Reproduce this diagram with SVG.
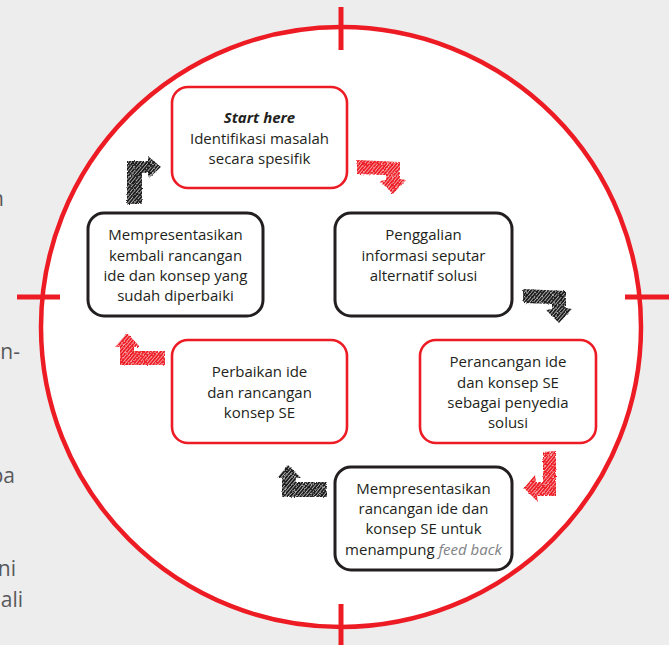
<svg xmlns="http://www.w3.org/2000/svg" width="669" height="645" viewBox="0 0 669 645">
  <defs>
    <pattern id="hatchRed" width="2.6" height="2.6" patternUnits="userSpaceOnUse" patternTransform="rotate(40)">
      <rect width="2.6" height="2.6" fill="#f7a3a6"/>
      <rect width="1.7" height="2.6" fill="#ed1c24"/>
    </pattern>
    <pattern id="hatchBlack" width="2.6" height="2.6" patternUnits="userSpaceOnUse" patternTransform="rotate(40)">
      <rect width="2.6" height="2.6" fill="#b0b0b0"/>
      <rect width="1.7" height="2.6" fill="#1a1a1a"/>
    </pattern>
    <filter id="rough" x="-20%" y="-20%" width="140%" height="140%">
      <feTurbulence type="fractalNoise" baseFrequency="0.9" numOctaves="2" seed="3" result="n"/>
      <feDisplacementMap in="SourceGraphic" in2="n" scale="2.5" xChannelSelector="R" yChannelSelector="G"/>
    </filter>
  </defs>
  <style>
    .bg { fill: #ededed; }
    .ring { fill: #ffffff; stroke: #ed1c24; stroke-width: 4.5; }
    .tick { stroke: #ed1c24; stroke-width: 5; }
    .side { font-family: "Open Sans", "Noto Sans", sans-serif; font-size: 21px; fill: #58595b; text-anchor: end; }
    .boxR { fill: #ffffff; stroke: #ed1c24; stroke-width: 2.6; }
    .boxK { fill: #ffffff; stroke: #231f20; stroke-width: 3; }
    .lbl { font-family: "Open Sans", "Noto Sans", sans-serif; font-size: 15px; fill: #231f20; text-anchor: middle; }
    .bi { font-weight: bold; font-style: italic; }
    .it { font-style: italic; fill: #808285; }
    .arR { fill: url(#hatchRed); filter: url(#rough); }
    .arK { fill: url(#hatchBlack); filter: url(#rough); }
  </style>

  <rect class="bg" x="0" y="0" width="669" height="645"/>

  <!-- partial body text at left edge -->
  <g id="side-text">
    <text class="side" x="4" y="206">n</text>
    <text class="side" x="20" y="359">n-</text>
    <text class="side" x="15" y="483">pa</text>
    <text class="side" x="16" y="576">ni</text>
    <text class="side" x="23" y="607">ali</text>
  </g>

  <!-- target circle -->
  <g id="target">
    <circle class="ring" cx="341" cy="327" r="300"/>
    <line class="tick" x1="341" y1="7" x2="341" y2="50"/>
    <line class="tick" x1="341" y1="604" x2="341" y2="645"/>
    <line class="tick" x1="17" y1="297" x2="60" y2="297"/>
    <line class="tick" x1="625" y1="297" x2="669" y2="297"/>
  </g>

  <!-- connectors -->
  <g id="connectors">
    <polygon class="arR" points="357,160 400,162 400,179 406,180 393,194 380,181 386,180 386,175 357,174"/>
    <polygon class="arK" points="523,289 566,291 566,308 572,309 559,323 546,310 552,309 552,304 523,303"/>
    <polygon class="arR" points="543,452 556,451 556,496 537,496 538,502 524,488 535,475 536,482 543,482"/>
    <polygon class="arK" points="327,482 327,497 282,497 282,478 277,478 288,465 301,478 296,478 296,482"/>
    <polygon class="arR" points="165,351 165,365 120,365 120,347 115,347 127,333 140,347 134,347 134,351"/>
    <polygon class="arK" points="127,204 142,204 142,173 148,173 149,178 161,167 148,156 148,161 127,161"/>
  </g>

  <g id="start">
    <rect class="boxR" x="172" y="87" width="175" height="101" rx="16"/>
    <text class="lbl" x="259.5" y="123"><tspan class="bi">Start here</tspan></text>
    <text class="lbl" x="259.5" y="143.5">Identifikasi masalah</text>
    <text class="lbl" x="259.5" y="164">secara spesifik</text>
  </g>

  <g id="penggalian">
    <rect class="boxK" x="335" y="213" width="177" height="103" rx="16"/>
    <text class="lbl" x="423.5" y="240">Penggalian</text>
    <text class="lbl" x="423.5" y="260.5">informasi seputar</text>
    <text class="lbl" x="423.5" y="281">alternatif solusi</text>
  </g>

  <g id="perancangan">
    <rect class="boxR" x="420" y="340" width="176" height="103" rx="16"/>
    <text class="lbl" x="508" y="367">Perancangan ide</text>
    <text class="lbl" x="508" y="387.5">dan konsep SE</text>
    <text class="lbl" x="508" y="408">sebagai penyedia</text>
    <text class="lbl" x="508" y="428">solusi</text>
  </g>

  <g id="presentasi-feedback">
    <rect class="boxK" x="335" y="467" width="177" height="103" rx="16"/>
    <text class="lbl" x="423.5" y="494">Mempresentasikan</text>
    <text class="lbl" x="423.5" y="514">rancangan ide dan</text>
    <text class="lbl" x="423.5" y="534">konsep SE untuk</text>
    <text class="lbl" x="423.5" y="554.5">menampung <tspan class="it">feed back</tspan></text>
  </g>

  <g id="perbaikan">
    <rect class="boxR" x="172" y="340" width="175" height="103" rx="16"/>
    <text class="lbl" x="259.5" y="377">Perbaikan ide</text>
    <text class="lbl" x="259.5" y="398">dan rancangan</text>
    <text class="lbl" x="259.5" y="418">konsep SE</text>
  </g>

  <g id="presentasi-kembali">
    <rect class="boxK" x="88" y="213" width="175" height="103" rx="16"/>
    <text class="lbl" x="175.5" y="240">Mempresentasikan</text>
    <text class="lbl" x="175.5" y="260.5">kembali rancangan</text>
    <text class="lbl" x="175.5" y="281">ide dan konsep yang</text>
    <text class="lbl" x="175.5" y="301">sudah diperbaiki</text>
  </g>
</svg>
